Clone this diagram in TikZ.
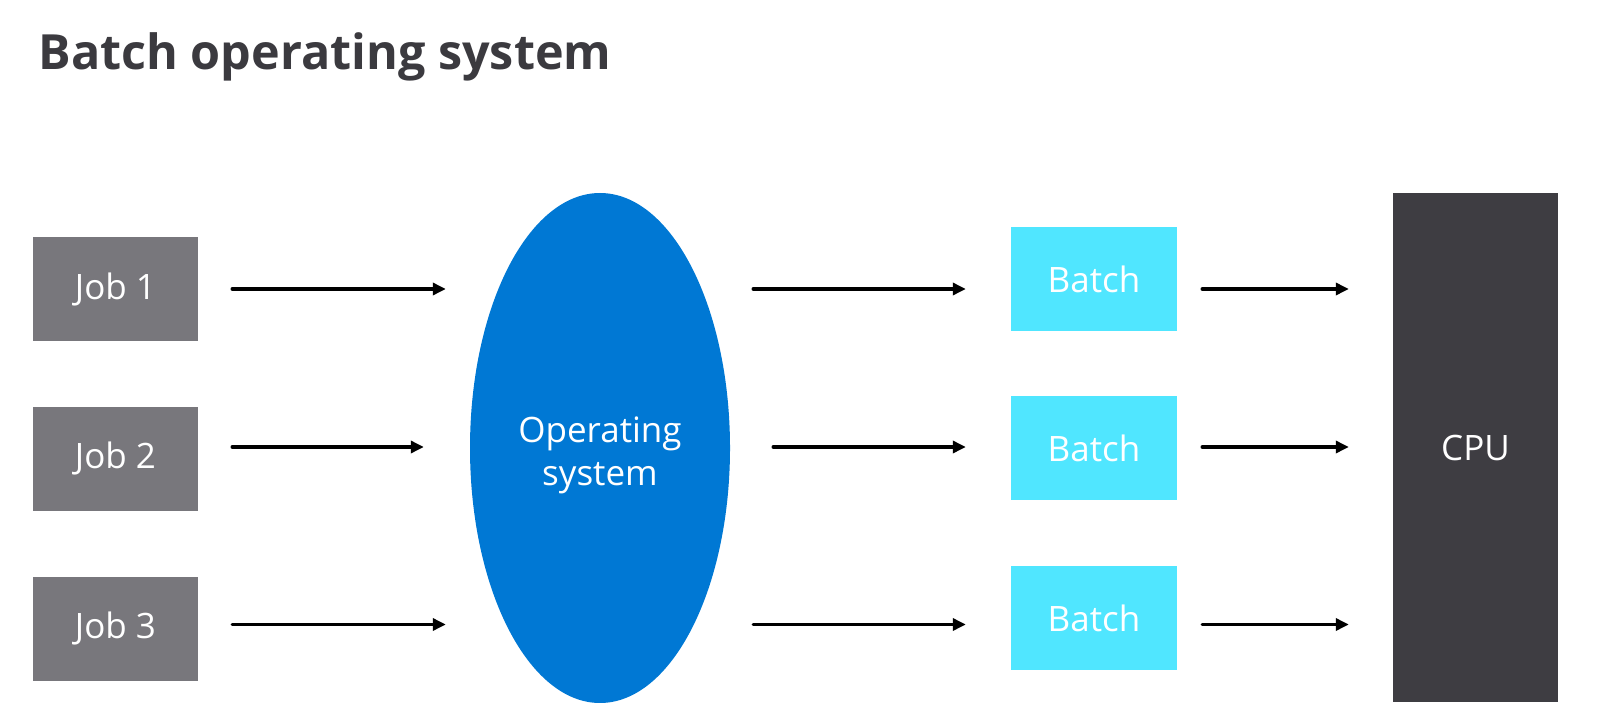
\documentclass[tikz,border=0pt]{standalone}
\usepackage{fontspec}
\setmainfont{Open Sans}
\usepackage{xcolor}
\usepackage{tikz}
\usetikzlibrary{arrows.meta,positioning,shapes.geometric}
\definecolor{jobgray}{HTML}{78777C}
\definecolor{batchcyan}{HTML}{50E6FF}
\definecolor{osblue}{HTML}{0078D4}
\definecolor{cpudark}{HTML}{3E3D42}
\definecolor{titlegray}{HTML}{3B3A3F}

\begin{document}
\begin{tikzpicture}[x=1pt,y=-1pt,
  box/.style={fill=#1,draw=none,inner sep=0pt,text=white,
    font=\fontsize{35}{40}\selectfont,align=center},
  job/.style={box=jobgray,minimum width=165pt,minimum height=104pt},
  bat/.style={box=batchcyan,minimum width=166pt,minimum height=104pt},
  arr/.style={-{Triangle[length=13pt,width=12pt]},line width=3.4pt,line cap=round}]
\useasboundingbox (0,0) rectangle (1600,703);
\node[anchor=base west,text=titlegray,font=\fontsize{48.5}{56}\selectfont\bfseries] (title) at (35,70) {Batch operating system};
% inputs
\node[job] (job1) at (115.5,289) {\raisebox{-2pt}{Job 1}};
\node[job] (job2) at (115.5,458.5) {\raisebox{-2pt}{Job 2}};
\node[job] (job3) at (115.5,628.5) {\raisebox{-2pt}{Job 3}};
% the operating system
\node[ellipse,fill=osblue,minimum width=260pt,minimum height=510pt,inner sep=0pt] (os) at (600,448) {};
\node[text=white,font=\fontsize{35}{43}\selectfont,align=center] (ostext) at (600,455) {Operating\\system};
% batches
\node[bat] (b1) at (1094,279) {\raisebox{-2pt}{Batch}};
\node[bat] (b2) at (1094,448) {\raisebox{-2pt}{Batch}};
\node[bat] (b3) at (1094,618) {\raisebox{-2pt}{Batch}};
\node[box=cpudark,minimum width=165pt,minimum height=509pt] (cpu) at (1475.5,447.5) {CPU};
% arrow rows
\coordinate (r1) at (0,289);
\coordinate (r2) at (0,447);
\coordinate (r3) at (0,624.5);
\draw[arr,shorten <=34pt,shorten >=24pt] (job1.east |- r1) -- (os.west |- r1);
\draw[arr,shorten <=34pt,shorten >=46pt] (job2.east |- r2) -- (os.west |- r2);
\draw[arr,shorten <=34pt,shorten >=24pt] (job3.east |- r3) -- (os.west |- r3);
\draw[arr,shorten <=23pt,shorten >=45pt] (os.east |- r1) -- (b1.west |- r1);
\draw[arr,shorten <=43pt,shorten >=45pt] (os.east |- r2) -- (b2.west |- r2);
\draw[arr,shorten <=23pt,shorten >=45pt] (os.east |- r3) -- (b3.west |- r3);
\draw[arr,shorten <=25pt,shorten >=44pt] (b1.east |- r1) -- (cpu.west |- r1);
\draw[arr,shorten <=25pt,shorten >=44pt] (b2.east |- r2) -- (cpu.west |- r2);
\draw[arr,shorten <=25pt,shorten >=44pt] (b3.east |- r3) -- (cpu.west |- r3);
\end{tikzpicture}
\end{document}
